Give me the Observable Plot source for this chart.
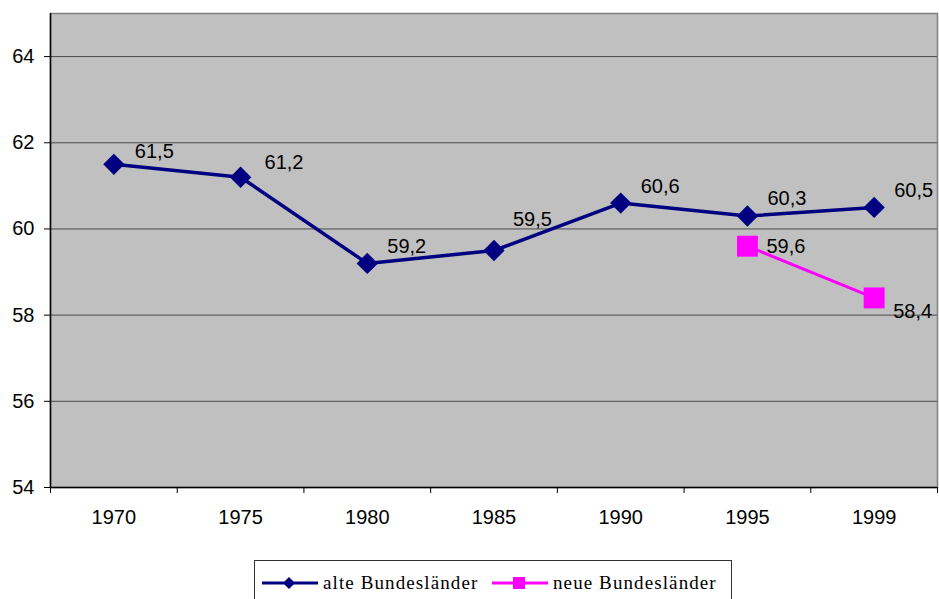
<!DOCTYPE html>
<html>
<head>
<meta charset="utf-8">
<script src="https://cdn.jsdelivr.net/npm/d3@7"></script>
<script src="https://cdn.jsdelivr.net/npm/@observablehq/plot@0.6"></script>
<style>
  html, body { margin: 0; padding: 0; background: white; overflow: hidden; }
  #wrap { position: relative; width: 939px; height: 599px; }
  #legend {
    position: absolute; left: 254px; top: 560px; width: 478px; height: 50px;
    border: 1px solid #333; box-sizing: border-box; background: white;
    font-family: "Liberation Serif", "Times New Roman", serif; font-size: 19px;
    letter-spacing: 1.1px; color: #000;
  }
  .item { position: absolute; top: 8px; display: flex; align-items: center; }
  .item svg { margin-right: 4px; }
</style>
</head>
<body>
<div id="wrap">
  <div id="chart"></div>
  <div id="legend"></div>
</div>
<script>
const years = ["1970", "1975", "1980", "1985", "1990", "1995", "1999"];
const alteValues = [61.5, 61.2, 59.2, 59.5, 60.6, 60.3, 60.5];
const neueYears = ["1995", "1999"];
const neueValues = [59.6, 58.4];
const yTicks = [54, 56, 58, 60, 62, 64];
const seriesNames = ["alte Bundesländer", "neue Bundesländer"];
const seriesColors = ["#000080", "#ff00ff"];

const fmt = v => v.toFixed(1).replace(".", ",");
const alte = years.map((y, i) => ({i, year: y, v: alteValues[i]}));
const neue = neueYears.map((y, k) => ({i: years.indexOf(y), year: y, v: neueValues[k]}));

// label placement (layout only)
const alteShift = {"1970": [21, -13], "1975": [24, -15], "1985": [19, -31]};
const neueShift = {"1995": [19, 0], "1999": [19, 14]};

const labelMarks = [];
for (const d of alte) {
  const [dx, dy] = alteShift[d.year] || [20, -17];
  labelMarks.push(Plot.text([d], {x: "i", y: "v", text: d => fmt(d.v), dx, dy, textAnchor: "start", fontSize: 20, fill: "black"}));
}
for (const d of neue) {
  const [dx, dy] = neueShift[d.year];
  labelMarks.push(Plot.text([d], {x: "i", y: "v", text: d => fmt(d.v), dx, dy, textAnchor: "start", fontSize: 20, fill: "black"}));
}

const chart = Plot.plot({
  width: 939,
  height: 555,
  marginLeft: 50,
  marginRight: 2,
  marginTop: 13,
  marginBottom: 68,
  style: {fontFamily: "'Liberation Sans', Arial, sans-serif", fontSize: "20px", background: "white", color: "black"},
  x: {type: "linear", domain: [-0.5, years.length - 0.5]},
  y: {domain: [54, 65]},
  marks: [
    Plot.frame({fill: "#c0c0c0", stroke: "#808080", strokeWidth: 1.5}),
    Plot.gridY(yTicks.filter(t => t > 54), {stroke: "#4a4a4a", strokeOpacity: 1, strokeWidth: 1}),
    Plot.axisY({ticks: yTicks, tickSize: 6, tickPadding: 10, fontSize: 20, stroke: "black", label: null}),
    Plot.axisX({ticks: d3.range(-0.5, years.length, 1), tickSize: 6, tickFormat: () => "", stroke: "black", label: null}),
    Plot.axisX({ticks: d3.range(years.length), tickSize: 0, tickPadding: 22, tickFormat: i => years[i], fontSize: 20, label: null}),
    Plot.ruleX([-0.5], {stroke: "black", strokeWidth: 1.5}),
    Plot.ruleY([54], {stroke: "black", strokeWidth: 1.5}),
    Plot.line(alte, {x: "i", y: "v", stroke: seriesColors[0], strokeWidth: 3.5}),
    Plot.dot(alte, {x: "i", y: "v", symbol: "diamond2", r: 9.6, fill: seriesColors[0], stroke: "none"}),
    Plot.line(neue, {x: "i", y: "v", stroke: seriesColors[1], strokeWidth: 3}),
    Plot.dot(neue, {x: "i", y: "v", symbol: "square", r: 11.8, fill: seriesColors[1], stroke: "none"}),
    ...labelMarks
  ]
});
document.getElementById("chart").appendChild(chart);

// legend
const legend = document.getElementById("legend");
const lefts = [6, 236];
seriesNames.forEach((name, k) => {
  const item = document.createElement("div");
  item.className = "item";
  item.style.left = lefts[k] + "px";
  const sym = k === 0
    ? `<polygon points="28,8 34,14 28,20 22,14" fill="${seriesColors[0]}"/>`
    : `<rect x="22" y="8" width="12" height="12" fill="${seriesColors[1]}"/>`;
  item.innerHTML = `<svg width="58" height="28"><line x1="1" y1="14" x2="57" y2="14" stroke="${seriesColors[k]}" stroke-width="3"/>${sym}</svg><span>${name}</span>`;
  legend.appendChild(item);
});
</script>
</body>
</html>
